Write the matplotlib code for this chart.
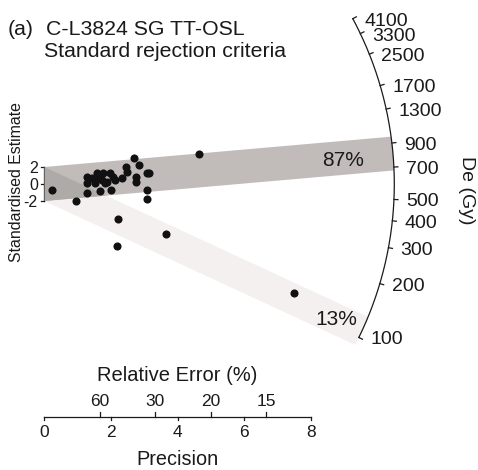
import numpy as np
import matplotlib
matplotlib.use('Agg')
import matplotlib.pyplot as plt
from matplotlib.patches import Polygon

# ---------------- data ----------------
precision = [0.24, 0.95, 1.29, 1.29, 1.29, 1.57, 1.52, 1.67, 1.77, 1.82,
             1.97, 1.99, 2.07, 2.12, 2.32, 2.45, 2.47, 2.69, 2.75, 2.75,
             2.85, 3.07, 3.15, 3.09, 3.07, 2.20, 3.64, 2.17, 4.65, 7.50,
             1.72, 1.87, 1.43, 1.64]
std_estimate = [-0.71, -2.00, -1.02, 0.86, 0.08, 1.26, 0.08, -0.82, 1.26, 0.08,
                1.26, -0.71, 0.86, 0.47, 0.67, 2.04, 1.45, 3.02, 0.86, 0.27,
                2.24, 1.26, 1.26, -0.71, -1.80, -4.15, -5.88, -7.24, 3.49, -12.79,
                0.47, 0.27, 0.70, 0.70]
component_de = [806.0, 109.5]          # Gy, central values of the two components
component_labels = ['87%', '13%']
reference_de = 587.0                    # Gy, value at standardised estimate 0
arc_ticks = [100, 200, 300, 400, 500, 700, 900, 1300, 1700, 2500, 3300, 4100]
precision_ticks = [0, 2, 4, 6, 8]
rel_error_ticks = [60, 30, 20, 15]
std_ticks = [2, 0, -2]

# ---------------- layout ----------------
W, H, DPI = 478, 470, 100
X0, Y0 = 44.3, 184.0        # pixel position of origin
SX, SY = 33.3, 8.5          # pixels per precision unit / per standardised unit
R = 350.0                   # arc radius in pixels
K = 1.08                    # log-scale factor of the arc
TXT = '#1a1a1a'
plt.rcParams['font.family'] = ['Liberation Sans', 'DejaVu Sans']

fig = plt.figure(figsize=(W / DPI, H / DPI), dpi=DPI)
ax = fig.add_axes([0, 0, 1, 1])
ax.set_xlim(-X0 / SX, (W - X0) / SX)
ax.set_ylim(-(H - Y0) / SY, Y0 / SY)
ax.axis('off')


def P(px, py):
    """pixel -> data"""
    return (px - X0) / SX, (Y0 - py) / SY


def slope(de):
    return K * (np.log(de) - np.log(reference_de))


def arc_xy(s, r):
    n = np.hypot(SX, SY * s)
    return r / n, r * s / n


def band_polygon(s):
    pts = []
    ends = []
    for c0 in (2.0, -2.0):
        a = SX ** 2 + (SY * s) ** 2
        b = 2 * SY ** 2 * s * c0
        c = (SY * c0) ** 2 - R ** 2
        x = (-b + np.sqrt(b * b - 4 * a * c)) / (2 * a)
        ends.append((x, s * x + c0))
    th1 = np.arctan2(SY * ends[0][1], SX * ends[0][0])
    th2 = np.arctan2(SY * ends[1][1], SX * ends[1][0])
    pts.append((0, 2.0))
    pts.append(ends[0])
    for th in np.linspace(th1, th2, 12):
        pts.append((R * np.cos(th) / SX, R * np.sin(th) / SY))
    pts.append(ends[1])
    pts.append((0, -2.0))
    return np.array(pts)


# bands
s_up, s_lo = slope(component_de[0]), slope(component_de[1])
lower = Polygon(band_polygon(s_lo), closed=True, facecolor='#f4f0f0', edgecolor='none', zorder=1)
upper = Polygon(band_polygon(s_up), closed=True, facecolor='#c1bcba', edgecolor='none', zorder=2)
ax.add_patch(lower)
ax.add_patch(upper)
overlap = Polygon(band_polygon(s_lo), closed=True, facecolor='#aeaaa8', edgecolor='none', zorder=3)
ax.add_patch(overlap)
overlap.set_clip_path(upper)

# points
ax.scatter(precision, std_estimate, s=34, color='#111111', zorder=5, linewidths=0)

# arc
s_min, s_max = slope(min(arc_ticks)), slope(max(arc_ticks))
ss = np.linspace(s_min, s_max, 300)
ax_, ay_ = arc_xy(ss, R)
ax.plot(ax_, ay_, color=TXT, lw=0.9, zorder=4)
for d in arc_ticks:
    s = slope(d)
    x1, y1 = arc_xy(s, R)
    x2, y2 = arc_xy(s, R + 4)
    ax.plot([x1, x2], [y1, y2], color=TXT, lw=0.9, zorder=4)
    ax.annotate(str(d), xy=(x1, y1), xytext=(8.6, -5.0), textcoords='offset points',
                ha='left', va='baseline', fontsize=14, color=TXT)

# component labels
ax.text(*P(321.7, 166.5), component_labels[0], fontsize=15, color=TXT, ha='left', va='baseline', zorder=6)
ax.text(*P(315.0, 325.0), component_labels[1], fontsize=15, color=TXT, ha='left', va='baseline', zorder=6)

# De label
ax.text(*P(466.5, 190), 'De (Gy)', rotation=-90, fontsize=14, color=TXT, ha='center', va='center')

# standardised axis
ax.plot([0, 0], [-2, 2], color=TXT, lw=0.9)
for t in std_ticks:
    ax.plot([-3 / SX, 0], [t, t], color=TXT, lw=0.9)
    ax.annotate(str(t), xy=(-3 / SX, t), xytext=(-2.5, -4.1), textcoords='offset points',
                ha='right', va='baseline', fontsize=11.5, color=TXT)
ax.text(*P(17, 182.5), 'Standardised Estimate', rotation=90, fontsize=11.4, color=TXT,
        ha='center', va='center')

# precision axis
yb = P(0, 416.7)[1]
ax.plot([0, max(precision_ticks)], [yb, yb], color=TXT, lw=0.9)
for t in precision_ticks:
    ax.plot([t, t], [yb, yb - 3 / SY], color=TXT, lw=0.9)
    ax.text(t, P(0, 437.3)[1], str(t), ha='center', va='baseline', fontsize=12.5, color=TXT)
for t in rel_error_ticks:
    xp = 100.0 / t
    ax.plot([xp, xp], [yb, yb + 5 / SY], color=TXT, lw=0.9)
    ax.text(xp, P(0, 406)[1], str(t), ha='center', va='baseline', fontsize=12.5, color=TXT)
ax.text(*P(177.5, 380.7), 'Relative Error (%)', ha='center', va='baseline', fontsize=14.5, color=TXT)
ax.text(*P(177.5, 465), 'Precision', ha='center', va='baseline', fontsize=14.3, color=TXT)

# titles
ax.text(*P(8, 35), '(a)', ha='left', va='baseline', fontsize=15.3, color=TXT)
ax.text(*P(46, 35), 'C-L3824 SG TT-OSL', ha='left', va='baseline', fontsize=15.3, color=TXT)
ax.text(*P(44.5, 56.7), 'Standard rejection criteria', ha='left', va='baseline', fontsize=15.3, color=TXT)

fig.savefig('out.png', dpi=DPI)
